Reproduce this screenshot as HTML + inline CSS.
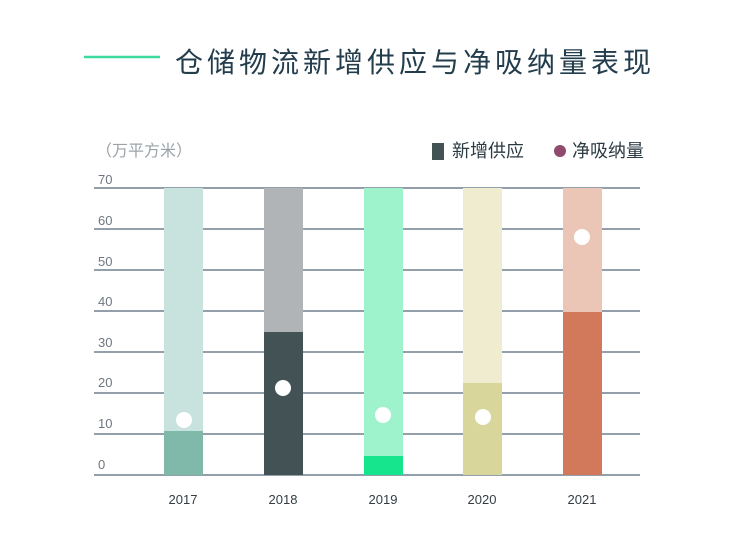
<!DOCTYPE html>
<html><head><meta charset="utf-8"><style>
body{margin:0;background:#fff;}
svg text{font-family:"Liberation Sans","Noto Sans CJK SC",sans-serif;}
</style></head><body>
<svg width="740" height="539" viewBox="0 0 740 539" xmlns="http://www.w3.org/2000/svg">
<rect width="740" height="539" fill="#fff"/>
<line x1="84" y1="57" x2="160" y2="57" stroke="#3ddc9e" stroke-width="2.5"/>
<text x="175" y="72" font-size="28" fill="#233d4d" letter-spacing="4">仓储物流新增供应与净吸纳量表现</text>
<text x="96" y="156" font-size="16" fill="#9aa3a8">（万平方米）</text>
<rect x="432" y="143" width="12" height="17" fill="#435255"/>
<text x="452" y="157" font-size="18" fill="#2b3b44">新增供应</text>
<circle cx="560" cy="151" r="6" fill="#8f4a6c"/>
<text x="572" y="157" font-size="18" fill="#2b3b44">净吸纳量</text>
<g stroke="#55667a" stroke-width="1.3">
<line x1="94" y1="188" x2="640" y2="188"/><line x1="94" y1="229" x2="640" y2="229"/>
<line x1="94" y1="270" x2="640" y2="270"/><line x1="94" y1="311" x2="640" y2="311"/>
<line x1="94" y1="352" x2="640" y2="352"/><line x1="94" y1="393" x2="640" y2="393"/>
<line x1="94" y1="434" x2="640" y2="434"/><line x1="94" y1="475" x2="640" y2="475"/>
</g>
<g font-size="13" fill="#6e7780">
<text x="98" y="184">70</text><text x="98" y="225">60</text><text x="98" y="266">50</text>
<text x="98" y="306">40</text><text x="98" y="347">30</text><text x="98" y="387">20</text>
<text x="98" y="428">10</text><text x="98" y="469">0</text>
</g>
<rect x="164" y="188" width="39" height="287" fill="#c8e3dd"/>
<rect x="164" y="431" width="39" height="44" fill="#80b8a9"/>
<rect x="264" y="188" width="39" height="287" fill="#b0b4b7"/>
<rect x="264" y="332" width="39" height="143" fill="#435255"/>
<rect x="364" y="188" width="39" height="287" fill="#9ef3cc"/>
<rect x="364" y="456" width="39" height="19" fill="#17e58d"/>
<rect x="463" y="188" width="39" height="287" fill="#efecd0"/>
<rect x="463" y="383" width="39" height="92" fill="#d9d69b"/>
<rect x="563" y="188" width="39" height="287" fill="#ebc6b7"/>
<rect x="563" y="312" width="39" height="163" fill="#d2795c"/>
<g fill="#fff">
<circle cx="184" cy="420" r="8"/><circle cx="283" cy="388" r="8"/>
<circle cx="383" cy="415" r="8"/><circle cx="483" cy="417" r="8"/><circle cx="582" cy="237" r="8"/>
</g>
<g font-size="13" fill="#333d44" text-anchor="middle">
<text x="183" y="504">2017</text><text x="283" y="504">2018</text><text x="383" y="504">2019</text>
<text x="482" y="504">2020</text><text x="582" y="504">2021</text>
</g>
</svg>
</body></html>
